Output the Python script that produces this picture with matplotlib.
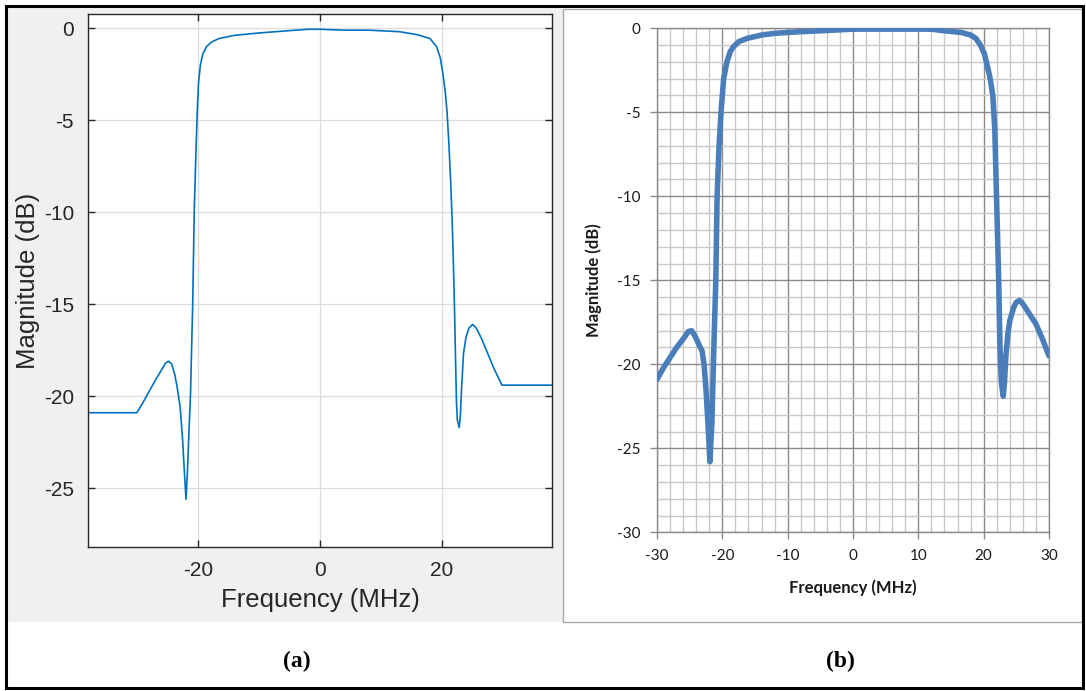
import matplotlib
matplotlib.use("Agg")
import matplotlib.pyplot as plt
from matplotlib.patches import Rectangle
from matplotlib.ticker import MultipleLocator

plt.rcParams['axes.unicode_minus'] = False

# (a) simulated response
freq_a = [-38, -30, -29, -28, -27, -26, -25.3, -24.8, -24.3, -23.8, -23.4, -22.9,
          -22.5, -22.2, -21.95, -21.7, -21.45, -21.2, -21.0, -20.85, -20.6, -20.3,
          -20.1, -19.9, -19.6, -19.2, -18.6, -17.8, -16.5, -14, -10, -6, -2, 0,
          4, 8, 13, 16, 18, 19.1, 19.7, 20.1, 20.5, 20.8, 21.1, 21.4, 21.65, 21.85,
          22.05, 22.2, 22.35, 22.5, 22.8, 23.0, 23.2, 23.5, 23.9, 24.4, 25.0, 25.6,
          26.5, 27.5, 28.5, 29.8, 38]
mag_a = [-20.9, -20.9, -20.35, -19.75, -19.15, -18.6, -18.2, -18.1, -18.25, -18.8,
         -19.5, -20.6, -22.4, -24.2, -25.6, -24.0, -21.8, -19.8, -17.0, -15, -10,
         -6.5, -4.5, -3, -2, -1.4, -1.0, -0.75, -0.55, -0.38, -0.25, -0.15, -0.05,
         -0.05, -0.1, -0.1, -0.18, -0.35, -0.55, -1.0, -1.6, -2.4, -3.4, -4.5, -6.2,
         -8.3, -10.5, -12.8, -15.5, -18, -20.3, -21.3, -21.7, -21.0, -19.5, -17.7,
         -16.8, -16.3, -16.1, -16.3, -16.9, -17.7, -18.5, -19.4, -19.4]

# (b) measured response
freq_b = [-30, -29, -28, -27, -26, -25.2, -24.7, -24.2, -23.5, -23.1, -22.8, -22.5,
          -22.2, -21.9, -21.6, -21.3, -21.0, -20.8, -20.5, -20.2, -19.8, -19.3,
          -18.8, -18.3, -17.5, -16.2, -14, -12, -8, -5, 0, 5, 10, 12, 14, 16.6,
          18, 18.8, 19.5, 20.1, 20.6, 21.0, 21.4, 21.7, 21.9, 22.1, 22.3, 22.5,
          22.7, 22.85, 23.0, 23.2, 23.4, 23.7, 24.0, 24.6, 25.0, 25.5, 26.0, 27.0,
          28.0, 29.0, 30]
mag_b = [-20.9, -20.2, -19.6, -19.0, -18.5, -18.05, -18.0, -18.3, -18.9, -19.2,
         -20.0, -21.5, -23.5, -25.8, -23.5, -19, -15, -10, -7, -5, -3, -2, -1.4,
         -1.1, -0.8, -0.6, -0.4, -0.3, -0.2, -0.15, -0.05, -0.05, -0.05, -0.05,
         -0.15, -0.25, -0.4, -0.6, -1.0, -1.5, -2.3, -3, -4.0, -6, -9, -12, -15,
         -19, -21.0, -21.5, -21.9, -21.0, -19.5, -18.2, -17.4, -16.6, -16.3, -16.2,
         -16.4, -17.0, -17.6, -18.5, -19.5]

W, H = 1086, 691
fig = plt.figure(figsize=(W / 100, H / 100), dpi=100)


def px_box(x0, y0, x1, y1):
    # pixel box (top-left origin) -> figure fraction [l, b, w, h]
    return [x0 / W, 1 - y1 / H, (x1 - x0) / W, (y1 - y0) / H]


# backgrounds and frames
l, b, w, h = px_box(8, 8, 563, 622)
fig.patches.append(Rectangle((l, b), w, h, transform=fig.transFigure,
                             facecolor='#f0f0f0', edgecolor='none', zorder=-2))
l, b, w, h = px_box(563, 9, 1082, 622)
fig.patches.append(Rectangle((l, b), w, h, transform=fig.transFigure,
                             facecolor='white', edgecolor='#a6a6a6', lw=1, zorder=-2))
l, b, w, h = px_box(6, 6, 1083, 688)
fig.patches.append(Rectangle((l, b), w, h, transform=fig.transFigure,
                             facecolor='none', edgecolor='black', lw=2.2, zorder=5))

# ---- panel (a), MATLAB look
ax1 = fig.add_axes(px_box(88, 14, 552, 547))
ax1.plot(freq_a, mag_a, color='#0072BD', lw=1.2)
ax1.set_xlim(-38, 38)
ax1.set_ylim(-28.2, 0.78)
ax1.set_xticks([-20, 0, 20])
ax1.set_yticks([0, -5, -10, -15, -20, -25])
ax1.grid(True, color='#dcdcdc', lw=0.9)
ax1.set_axisbelow(True)
ax1.tick_params(direction='in', top=True, right=True, length=5, width=1,
                colors='#262626', labelsize=15, pad=10)
for s in ax1.spines.values():
    s.set_color('#262626')
    s.set_linewidth(1)
ax1.set_xlabel('Frequency (MHz)', fontsize=18.5, color='#262626', labelpad=6,
               family='Liberation Sans')
ax1.set_ylabel('Magnitude (dB)', fontsize=18.5, color='#262626', labelpad=3,
               family='Liberation Sans')
for t in ax1.get_xticklabels() + ax1.get_yticklabels():
    t.set_family('Liberation Sans')

# ---- panel (b), Excel look
ax2 = fig.add_axes(px_box(657, 28.3, 1049, 532.3))
ax2.plot(freq_b, mag_b, color='#4a7ebb', lw=4, solid_capstyle='round', zorder=3)
ax2.set_xlim(-30, 30)
ax2.set_ylim(-30, 0)
ax2.xaxis.set_major_locator(MultipleLocator(10))
ax2.xaxis.set_minor_locator(MultipleLocator(2))
ax2.yaxis.set_major_locator(MultipleLocator(5))
ax2.yaxis.set_minor_locator(MultipleLocator(1))
ax2.grid(True, which='minor', color='#c8c8c8', lw=1)
ax2.grid(True, which='major', color='#8a8a8a', lw=1)
ax2.set_axisbelow(True)
ax2.tick_params(which='major', direction='out', length=5, width=1, color='#8a8a8a',
                labelcolor='#1a1a1a', labelsize=11, pad=7)
ax2.tick_params(which='minor', length=0)
for s in ax2.spines.values():
    s.set_color('#8a8a8a')
    s.set_linewidth(1)
for t in ax2.get_xticklabels() + ax2.get_yticklabels():
    t.set_family('Lato')
ax2.set_xlabel('Frequency (MHz)', fontsize=12, fontweight='bold', family='Lato',
               color='#1a1a1a', labelpad=12)
ax2.set_ylabel('Magnitude (dB)', fontsize=12, fontweight='bold', family='Lato',
               color='#1a1a1a', labelpad=11)

# captions
fig.text(297 / W, 1 - 661 / H, '(a)', ha='center', va='center', fontsize=17,
         fontweight='bold', family='Liberation Serif')
fig.text(840 / W, 1 - 661 / H, '(b)', ha='center', va='center', fontsize=17,
         fontweight='bold', family='Liberation Serif')

fig.savefig('out.png', dpi=100)
